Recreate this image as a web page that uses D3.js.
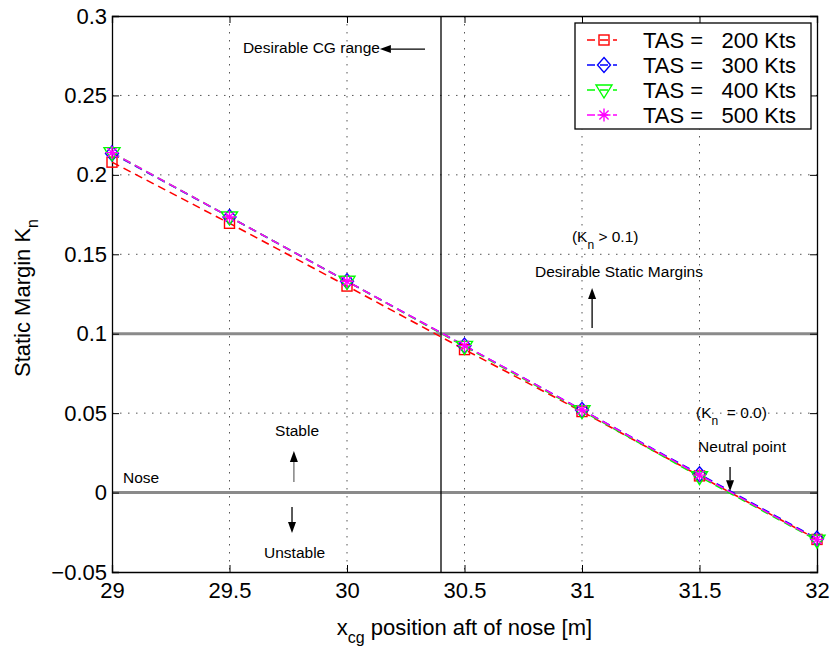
<!DOCTYPE html>
<html>
<head>
<meta charset="utf-8">
<script src="https://cdn.jsdelivr.net/npm/d3@7"></script>
<style>
html,body{margin:0;padding:0;background:#fff;}
svg{display:block;}
text{font-family:Arial,"Liberation Sans",Helvetica,sans-serif;}
</style>
</head>
<body>
<svg id="chart" width="830" height="648"></svg>
<script>
// ---- data ----
const xcg = [29, 29.5, 30, 30.5, 31, 31.5, 32];
const seriesNames = ["TAS =   200 Kts", "TAS =   300 Kts", "TAS =   400 Kts", "TAS =   500 Kts"];
const tas200 = [0.208, 0.1695, 0.1300, 0.0900, 0.0510, 0.0105, -0.0295];
const tas300 = [0.2135, 0.1735, 0.1330, 0.0925, 0.0520, 0.0115, -0.0290];
const tas400 = [0.2140, 0.1735, 0.1330, 0.0920, 0.0515, 0.0100, -0.0300];
const tas500 = [0.2140, 0.1735, 0.1330, 0.0925, 0.0520, 0.0110, -0.0295];
const seriesColors = ["#ff0000", "#0000ff", "#00ff00", "#ff00ff"];
const seriesMarkers = ["square", "diamond", "triangle", "star"];
const xTickValues = [29, 29.5, 30, 30.5, 31, 31.5, 32];
const xTickLabels = ["29", "29.5", "30", "30.5", "31", "31.5", "32"];
const yTickValues = [-0.05, 0, 0.05, 0.1, 0.15, 0.2, 0.25, 0.3];
const yTickLabels = ["\u22120.05", "0", "0.05", "0.1", "0.15", "0.2", "0.25", "0.3"];
const refLevels = [0.1, 0.0];      // Kn reference lines
const cgLimit = 30.4;              // desirable CG range limit

// ---- layout ----
const svg = d3.select("#chart");
const L = 112, R = 817, T = 16, B = 572;
const x = d3.scaleLinear().domain([29, 32]).range([L, R]);
const y = d3.scaleLinear().domain([-0.05, 0.3]).range([B, T]);
const BIG = "22px", SMALL = "15.5px";

// grid
const grid = svg.append("g").attr("stroke", "#555").attr("stroke-width", 1).attr("stroke-dasharray", "1.5,6.5");
grid.selectAll("line.gx").data(xTickValues.slice(1, -1)).enter().append("line")
  .attr("x1", d => x(d)).attr("x2", d => x(d)).attr("y1", T).attr("y2", B);
grid.selectAll("line.gy").data(yTickValues.slice(1, -1)).enter().append("line")
  .attr("y1", d => y(d)).attr("y2", d => y(d)).attr("x1", L).attr("x2", R);

// reference lines
svg.append("g").selectAll("line").data(refLevels).enter().append("line")
  .attr("x1", x(29)).attr("x2", x(32)).attr("y1", d => y(d)).attr("y2", d => y(d))
  .attr("stroke", "#8a8a8a").attr("stroke-width", 3);
svg.append("line").attr("x1", x(cgLimit)).attr("x2", x(cgLimit)).attr("y1", y(0.3)).attr("y2", y(-0.05))
  .attr("stroke", "#000").attr("stroke-width", 1.3);

// axes
function styleAxis(g) {
  g.selectAll(".domain").attr("stroke", "#000").attr("stroke-width", 1.3);
  g.selectAll(".tick line").attr("stroke", "#000");
  g.selectAll("text").attr("font-size", BIG).attr("fill", "#000")
   .attr("font-family", "Arial, 'Liberation Sans', sans-serif");
}
svg.append("g").attr("transform", `translate(0,${B})`)
  .call(d3.axisBottom(x).tickValues(xTickValues).tickFormat((d, i) => xTickLabels[i]).tickSize(-7).tickPadding(10))
  .call(styleAxis);
svg.append("g").attr("transform", `translate(0,${T})`)
  .call(d3.axisTop(x).tickValues(xTickValues).tickFormat("").tickSize(-7))
  .call(styleAxis);
svg.append("g").attr("transform", `translate(${L},0)`)
  .call(d3.axisLeft(y).tickValues(yTickValues).tickFormat((d, i) => yTickLabels[i]).tickSize(-7).tickPadding(5))
  .call(styleAxis);
svg.append("g").attr("transform", `translate(${R},0)`)
  .call(d3.axisRight(y).tickValues(yTickValues).tickFormat("").tickSize(-7))
  .call(styleAxis);

// marker shapes
function marker(g, type, color, cx, cy) {
  const s = g.append("g").attr("transform", `translate(${cx},${cy})`)
    .attr("fill", "none").attr("stroke", color).attr("stroke-width", 1.4);
  if (type === "square") s.append("rect").attr("x", -5).attr("y", -5).attr("width", 10).attr("height", 10);
  else if (type === "diamond") s.append("path").attr("d", "M0,-7.5L6.5,0L0,7.5L-6.5,0Z");
  else if (type === "triangle") s.append("path").attr("d", "M-8,-5L8,-5L0,8Z");
  else if (type === "star") {
    const r = 6.5, q = 4.6;
    s.append("path").attr("d", `M${-r},0L${r},0M0,${-r}L0,${r}M${-q},${-q}L${q},${q}M${-q},${q}L${q},${-q}`);
  }
}

// series
const allSeries = [tas200, tas300, tas400, tas500];
const line = d3.line().x((d, i) => x(xcg[i])).y(d => y(d));
allSeries.forEach((vals, k) => {
  svg.append("path").datum(vals).attr("d", line).attr("fill", "none")
    .attr("stroke", seriesColors[k]).attr("stroke-width", 1.6).attr("stroke-dasharray", "8,5");
});
allSeries.forEach((vals, k) => {
  const g = svg.append("g");
  vals.forEach((v, i) => marker(g, seriesMarkers[k], seriesColors[k], x(xcg[i]), y(v)));
});

// arrows
function arrow(x1, y1, x2, y2, shaftColor) {
  const px1 = x(x1), py1 = y(y1), px2 = x(x2), py2 = y(y2);
  const ang = Math.atan2(py2 - py1, px2 - px1);
  const hl = 11, hw = 4;
  const bx = px2 - hl * Math.cos(ang), by = py2 - hl * Math.sin(ang);
  svg.append("line").attr("x1", px1).attr("y1", py1).attr("x2", bx).attr("y2", by)
    .attr("stroke", shaftColor || "#000").attr("stroke-width", 1.3);
  const nx = -Math.sin(ang), ny = Math.cos(ang);
  svg.append("path").attr("d", `M${px2},${py2}L${bx + nx * hw},${by + ny * hw}L${bx - nx * hw},${by - ny * hw}Z`)
    .attr("fill", "#000");
}
function label(str, xd, yd) {
  return svg.append("text").attr("x", x(xd)).attr("y", y(yd)).attr("font-size", SMALL).attr("fill", "#000").text(str);
}
function subLabel(pre, sub, post, xd, yd) {
  const t = svg.append("text").attr("x", x(xd)).attr("y", y(yd)).attr("font-size", SMALL).attr("fill", "#000")
    .attr("xml:space", "preserve").style("white-space", "pre");
  t.append("tspan").text(pre);
  t.append("tspan").attr("dy", 7).attr("font-size", "12px").text(sub);
  t.append("tspan").attr("dy", -7).text(post);
}

label("Desirable CG range", 29.557, 0.2767);
arrow(30.332, 0.2792, 30.14, 0.2792);
subLabel("(K", "n", " > 0.1)", 30.957, 0.1577);
label("Desirable Static Margins", 30.80, 0.1357);
arrow(31.043, 0.1036, 31.043, 0.1288);
subLabel("(K", "n", "  = 0.0)", 31.485, 0.0469);
label("Neutral point", 31.494, 0.0256);
arrow(31.63, 0.0161, 31.63, 0.0008);
label("Nose", 29.047, 0.006);
label("Stable", 29.694, 0.0356);
arrow(29.774, 0.0067, 29.774, 0.0262, "#707070");
arrow(29.766, -0.0091, 29.766, -0.0254);
label("Unstable", 29.647, -0.0412);

// axis labels
const xl = svg.append("text").attr("x", (L + R) / 2).attr("y", 635).attr("text-anchor", "middle")
  .attr("font-size", BIG).attr("fill", "#000");
xl.append("tspan").text("x");
xl.append("tspan").attr("dy", 8).attr("font-size", "16px").text("cg");
xl.append("tspan").attr("dy", -8).text(" position aft of nose [m]");

const yl = svg.append("text").attr("transform", `translate(30,298) rotate(-90)`)
  .attr("text-anchor", "middle").attr("font-size", BIG).attr("fill", "#000");
yl.append("tspan").text("Static Margin K");
yl.append("tspan").attr("dy", 8).attr("font-size", "16px").text("n");

// legend
const lg = svg.append("g");
lg.append("rect").attr("x", 575).attr("y", 23).attr("width", 236).attr("height", 106)
  .attr("fill", "#fff").attr("stroke", "#000").attr("stroke-width", 1.3);
const rowY = [40, 65, 90, 115];
seriesNames.forEach((name, k) => {
  lg.append("line").attr("x1", 587).attr("x2", 617).attr("y1", rowY[k]).attr("y2", rowY[k])
    .attr("stroke", seriesColors[k]).attr("stroke-width", 1.6).attr("stroke-dasharray", "8,5");
  marker(lg, seriesMarkers[k], seriesColors[k], 604, rowY[k]);
  lg.append("text").attr("x", 643).attr("y", rowY[k] + 8).attr("font-size", BIG).attr("fill", "#000")
    .attr("xml:space", "preserve").style("white-space", "pre").text(name);
});
</script>
</body>
</html>
